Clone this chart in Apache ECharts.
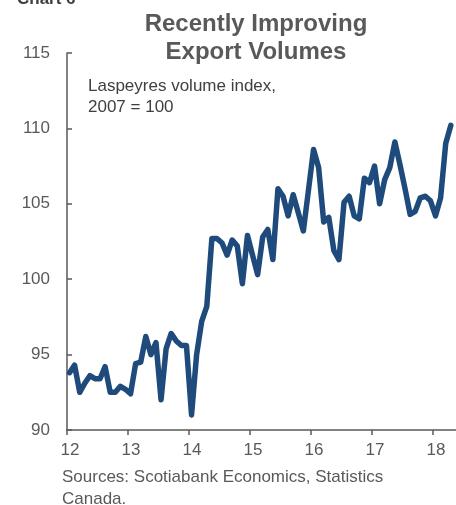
<!DOCTYPE html>
<html>
	<head>
		<meta charset="utf-8" />
		<title>Recently Improving Export Volumes</title>
		<style>
			html,
			body {
				margin: 0;
				padding: 0;
				background: #fff;
			}
		</style>
	</head>
	<body>
		<div id="main" style="width: 456px; height: 505px;"></div>
		<script src="https://cdn.jsdelivr.net/npm/echarts@6/dist/echarts.min.js"></script>
		<script type="text/javascript">
			// monthly index, Jan 2012 .. Apr 2018
			var firstYear = 12;
			var volumeIndex = [
				93.8, 94.3, 92.5, 93.1, 93.6, 93.4, 93.4, 94.2, 92.5, 92.5, 92.9, 92.7,
				92.4, 94.4, 94.5, 96.2, 95.0, 95.8, 92.0, 95.4, 96.4, 95.9, 95.6, 95.6,
				91.0, 95.0, 97.2, 98.2, 102.7, 102.7, 102.4, 101.6, 102.6, 102.2, 99.7, 102.9,
				101.6, 100.3, 102.8, 103.3, 101.3, 106.0, 105.5, 104.2, 105.6, 104.4, 103.2, 105.9,
				108.6, 107.4, 103.8, 104.1, 101.9, 101.3, 105.1, 105.5, 104.2, 104.0, 106.7, 106.4,
				107.5, 105.0, 106.6, 107.4, 109.1, 107.6, 106.0, 104.3, 104.5, 105.4, 105.5, 105.2,
				104.2, 105.4, 109.0, 110.2,
			];
			var yearTicks = [12, 13, 14, 15, 16, 17, 18];

			// each month sits in the middle of its slot
			var points = volumeIndex.map(function (v, i) {
				return [firstYear + (i + 0.5) / 12, v];
			});

			var grey = '#595959';
			var myChart = echarts.init(document.getElementById('main'));
			var option = {
				backgroundColor: '#fff',
				animation: false,
				textStyle: { fontFamily: 'Liberation Sans, Arial, sans-serif' },
				grid: { left: 67, right: 0, top: 53, bottom: 75 },
				graphic: [
					{
						// chart number, cut off at the top edge
						type: 'text',
						x: 17,
						y: -9,
						style: { text: 'Chart 6', fontSize: 17, fontWeight: 'bold', fill: '#404040', fontFamily: 'Liberation Sans', verticalAlign: 'top' },
					},
					{
						type: 'text',
						x: 256,
						y: 10,
						style: {
							text: 'Recently Improving\nExport Volumes',
							fontSize: 24,
							lineHeight: 28,
							fontWeight: 'bold',
							fill: grey,
							align: 'center',
							verticalAlign: 'top',
							fontFamily: 'Liberation Sans',
						},
					},
					{
						type: 'text',
						x: 88,
						y: 76,
						style: {
							text: 'Laspeyres volume index,\n2007 = 100',
							fontSize: 17,
							lineHeight: 21,
							fill: '#404040',
							verticalAlign: 'top',
							fontFamily: 'Liberation Sans',
						},
					},
					{
						type: 'text',
						x: 62,
						y: 466,
						style: {
							text: 'Sources: Scotiabank Economics, Statistics\nCanada.',
							fontSize: 17,
							lineHeight: 22,
							fill: grey,
							verticalAlign: 'top',
							fontFamily: 'Liberation Sans',
						},
					},
				],
				xAxis: {
					type: 'value',
					min: 12,
					max: 12 + 389 / 61,
					splitLine: { show: false },
					axisLine: { lineStyle: { color: grey, width: 1.5 } },
					axisTick: { length: 5, lineStyle: { color: grey, width: 1.5 }, customValues: yearTicks },
					axisLabel: {
						customValues: yearTicks,
						color: grey,
						fontSize: 17,
						margin: 12,
						padding: [0, 0, 0, 6],
					},
				},
				yAxis: {
					type: 'value',
					min: 90,
					max: 115,
					interval: 5,
					splitLine: { show: false },
					axisLine: { show: true, lineStyle: { color: grey, width: 1.5 } },
					axisTick: { show: true, inside: true, length: 5, lineStyle: { color: grey, width: 1.5 } },
					axisLabel: { color: grey, fontSize: 17, margin: 17 },
				},
				series: [
					{
						type: 'line',
						data: points,
						showSymbol: false,
						clip: false,
						lineStyle: { color: '#1f4a7c', width: 5.5, join: 'round', cap: 'round' },
					},
				],
			};
			myChart.setOption(option);
		</script>
	</body>
</html>
